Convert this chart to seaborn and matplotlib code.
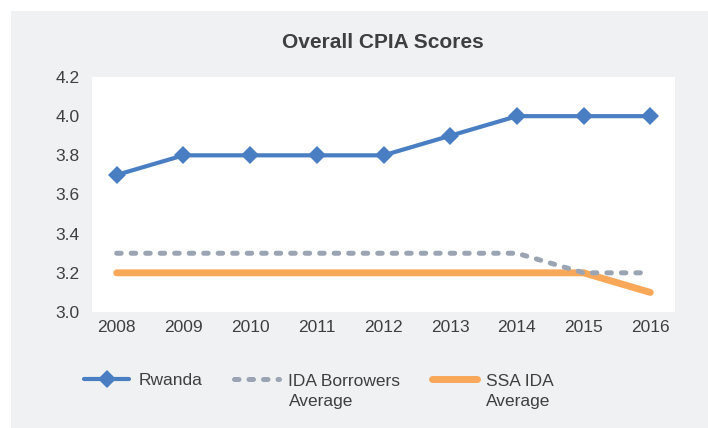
import pandas as pd
import matplotlib.pyplot as plt
import matplotlib.patches as mpatches
import seaborn as sns

# Chart data
years = [2008, 2009, 2010, 2011, 2012, 2013, 2014, 2015, 2016]
rwanda = [3.7, 3.8, 3.8, 3.8, 3.8, 3.9, 4.0, 4.0, 4.0]
ida_borrowers = [3.3, 3.3, 3.3, 3.3, 3.3, 3.3, 3.3, 3.2, 3.2]
ssa_ida = [3.2, 3.2, 3.2, 3.2, 3.2, 3.2, 3.2, 3.2, 3.1]
y_ticks = [3.0, 3.2, 3.4, 3.6, 3.8, 4.0, 4.2]

df = pd.DataFrame({"year": years, "Rwanda": rwanda,
                   "IDA": ida_borrowers, "SSA": ssa_ida})

sns.set_style("white")
plt.rcParams['font.family'] = ['Liberation Sans', 'DejaVu Sans']
text_col = "#3f3f3f"

fig = plt.figure(figsize=(7.08, 4.28), dpi=100)
fig.patch.set_facecolor("white")
# grey panel behind everything
fig.patches.append(mpatches.Rectangle((11 / 708, 0), 1, 1 - 11 / 428,
                                      transform=fig.transFigure,
                                      facecolor="#f0f1f3", edgecolor="none",
                                      zorder=-10))

ax = fig.add_axes([92 / 708, 1 - 312 / 428, (675 - 92) / 708, (312 - 77) / 428])
ax.set_facecolor("white")

sns.lineplot(data=df, x="year", y="SSA", ax=ax, color="#f9a85a", lw=5,
             solid_capstyle="round", label="SSA IDA\nAverage", zorder=2)
sns.lineplot(data=df, x="year", y="IDA", ax=ax, color="#9aa4b2", lw=3.6,
             dashes=(0.9, 2.0), dash_capstyle="round",
             label="IDA Borrowers\nAverage", zorder=3)
sns.lineplot(data=df, x="year", y="Rwanda", ax=ax, color="#4a7ec2", lw=3,
             marker="D", markersize=9, markeredgewidth=0,
             label="Rwanda", zorder=4)

ax.set_xlim(2007.63, 2016.37)
ax.set_ylim(3.0, 4.2)
ax.set_xticks(years)
ax.set_yticks(y_ticks)
ax.set_yticklabels([f"{v:.1f}" for v in y_ticks])
ax.tick_params(axis="both", length=0, labelsize=12.5, labelcolor=text_col)
ax.tick_params(axis="x", pad=6)
ax.tick_params(axis="y", pad=9)
ax.set_xlabel("")
ax.set_ylabel("")
sns.despine(ax=ax, left=True, bottom=True)

fig.text(383 / 708, 1 - 42 / 428, "Overall CPIA Scores", ha="center",
         va="center", fontsize=15, fontweight="bold", color=text_col)

handles, labels = ax.get_legend_handles_labels()
ax.get_legend().remove()
order = [2, 1, 0]
leg_size = 12.5
line_sp = 1.45
leg = fig.legend([handles[i] for i in order], [labels[i] for i in order],
                 loc="upper left", bbox_to_anchor=(84 / 708, 1 - 361 / 428),
                 ncol=3, frameon=False, fontsize=leg_size, handlelength=2.6,
                 handletextpad=0.55, columnspacing=1.8, borderaxespad=0,
                 borderpad=0, labelcolor=text_col)
for t in leg.get_texts():
    if "\n" in t.get_text():
        t.set_linespacing(line_sp)
        t.set_y(-0.5 * line_sp * leg_size * fig.dpi / 72)

fig.savefig("out.png", dpi=100)
